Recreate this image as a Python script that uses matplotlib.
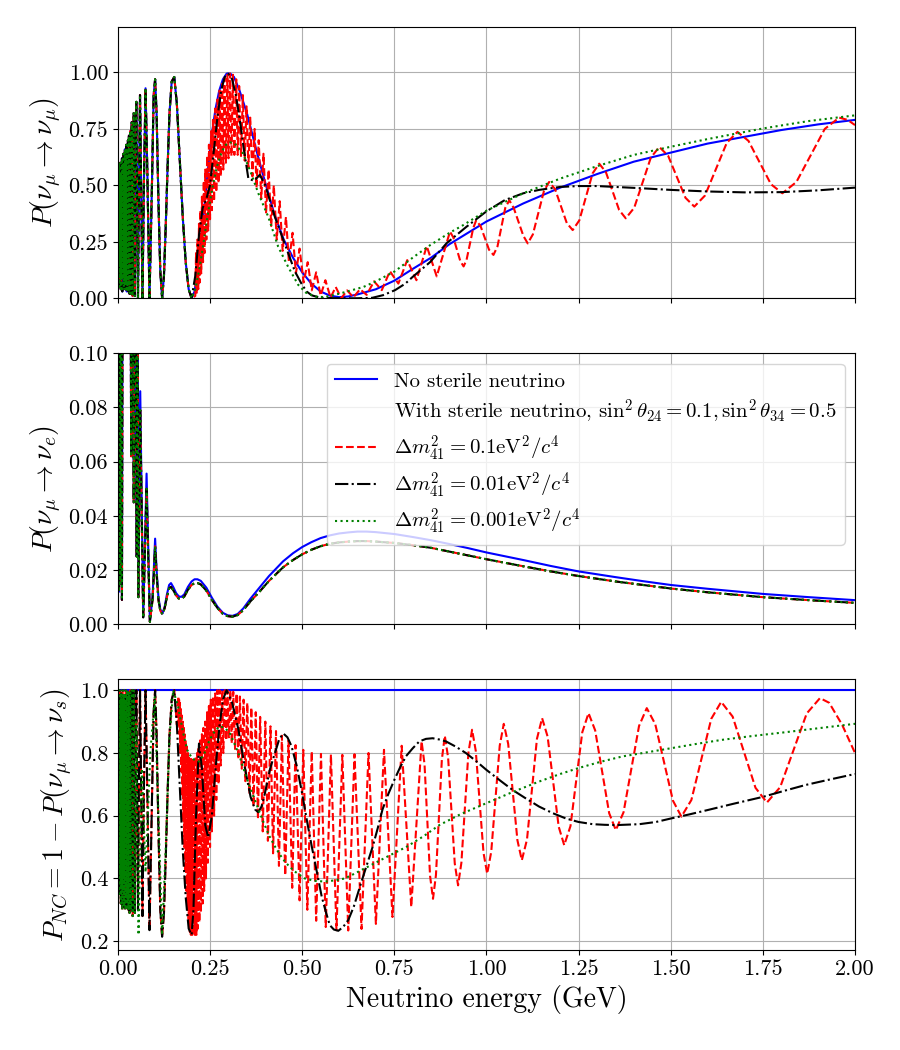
import numpy as np
import matplotlib
matplotlib.use("Agg")
import matplotlib.pyplot as plt

plt.rcParams["font.family"] = "serif"
plt.rcParams["font.serif"] = ["cmr10"]
plt.rcParams["mathtext.fontset"] = "cm"
plt.rcParams["axes.formatter.use_mathtext"] = True

# --- data: (energy GeV, probability) --- #

# top panel, dense low energy part shared by all curves
top_low = [(0.001, 0.55), (0.002, 0.1), (0.003, 0.6), (0.004, 0.05), (0.005, 0.52), (0.006, 0.15),
           (0.007, 0.6), (0.008, 0.04), (0.009, 0.55), (0.010, 0.1), (0.011, 0.62), (0.012, 0.03),
           (0.013, 0.58), (0.014, 0.12), (0.015, 0.64), (0.016, 0.05), (0.017, 0.6), (0.018, 0.08),
           (0.019, 0.66), (0.020, 0.04), (0.021, 0.62), (0.022, 0.06), (0.023, 0.68), (0.024, 0.03),
           (0.025, 0.66), (0.026, 0.05), (0.0273, 0.7), (0.0286, 0.03), (0.030, 0.72), (0.0316, 0.02),
           (0.0333, 0.74), (0.0353, 0.02), (0.0375, 0.78), (0.040, 0.01), (0.0429, 0.82), (0.046, 0.01),
           (0.048, 0.45), (0.050, 0.87), (0.052, 0.45), (0.0545, 0.0), (0.057, 0.45), (0.060, 0.9),
           (0.063, 0.5), (0.0667, 0.0), (0.0705, 0.5), (0.075, 0.93), (0.080, 0.55), (0.0857, 0.0)]
top_mid = [(0.092, 0.47), (0.097, 0.9), (0.101, 0.97), (0.105, 0.82), (0.110, 0.43), (0.115, 0.12),
           (0.120, 0.0), (0.125, 0.1), (0.130, 0.33), (0.135, 0.59), (0.140, 0.82), (0.146, 0.96),
           (0.153, 0.98), (0.160, 0.86), (0.168, 0.61), (0.176, 0.36), (0.184, 0.16), (0.192, 0.04),
           (0.200, 0.0)]
top_blue = [(0.208, 0.03), (0.216, 0.12), (0.225, 0.25), (0.235, 0.41), (0.245, 0.58), (0.255, 0.73),
            (0.265, 0.84), (0.275, 0.92), (0.285, 0.97), (0.295, 0.995), (0.305, 0.995), (0.315, 0.98),
            (0.33, 0.92), (0.35, 0.82), (0.375, 0.66), (0.40, 0.51), (0.425, 0.37), (0.45, 0.26),
            (0.475, 0.18), (0.50, 0.115), (0.525, 0.065), (0.55, 0.03), (0.575, 0.012), (0.60, 0.005),
            (0.625, 0.008), (0.65, 0.017), (0.70, 0.04), (0.75, 0.078), (0.80, 0.13), (0.85, 0.18),
            (0.90, 0.24), (0.95, 0.29), (1.00, 0.34), (1.10, 0.42), (1.20, 0.49), (1.30, 0.55),
            (1.40, 0.605), (1.50, 0.645), (1.60, 0.685), (1.70, 0.715), (1.80, 0.745), (1.90, 0.77),
            (2.00, 0.79)]
top_red = [(0.210, 0.01), (0.212, 0.2), (0.214, 0.02), (0.216, 0.26), (0.218, 0.04), (0.220, 0.33),
           (0.222, 0.07), (0.224, 0.39), (0.226, 0.11), (0.228, 0.45), (0.231, 0.16), (0.233, 0.52),
           (0.235, 0.2), (0.237, 0.57), (0.240, 0.26), (0.242, 0.63), (0.245, 0.3), (0.247, 0.68),
           (0.250, 0.35), (0.253, 0.74), (0.255, 0.39), (0.258, 0.79), (0.261, 0.43), (0.264, 0.84),
           (0.267, 0.47), (0.270, 0.88), (0.273, 0.51), (0.276, 0.92), (0.279, 0.54), (0.283, 0.95),
           (0.286, 0.57), (0.289, 0.975), (0.293, 0.6), (0.297, 0.99), (0.300, 0.62), (0.304, 0.995),
           (0.308, 0.63), (0.312, 0.99), (0.316, 0.635), (0.321, 0.97), (0.325, 0.635), (0.329, 0.94),
           (0.334, 0.63), (0.339, 0.9), (0.344, 0.61), (0.349, 0.85), (0.354, 0.58), (0.359, 0.8),
           (0.365, 0.54), (0.371, 0.75), (0.376, 0.49), (0.382, 0.7), (0.389, 0.44), (0.395, 0.64),
           (0.402, 0.38), (0.409, 0.57), (0.416, 0.32), (0.423, 0.5), (0.431, 0.26), (0.439, 0.43),
           (0.447, 0.21), (0.456, 0.36), (0.464, 0.16), (0.474, 0.29), (0.483, 0.11), (0.493, 0.22),
           (0.504, 0.07), (0.515, 0.16), (0.526, 0.035), (0.538, 0.115), (0.550, 0.012), (0.563, 0.08),
           (0.577, 0.003), (0.591, 0.05), (0.606, 0.0), (0.622, 0.035), (0.639, 0.004), (0.657, 0.04),
           (0.675, 0.015), (0.695, 0.075), (0.716, 0.036), (0.738, 0.12), (0.761, 0.065), (0.785, 0.169),
           (0.81, 0.08), (0.838, 0.231), (0.865, 0.097), (0.901, 0.295), (0.91, 0.27), (0.929, 0.165),
           (0.938, 0.141), (0.946, 0.17), (0.964, 0.31), (0.972, 0.345), (0.984, 0.32), (1.007, 0.215),
           (1.019, 0.192), (1.03, 0.23), (1.051, 0.40), (1.062, 0.434), (1.074, 0.40), (1.1, 0.277),
           (1.112, 0.243), (1.126, 0.283), (1.156, 0.475), (1.17, 0.515), (1.186, 0.484), (1.218, 0.333),
           (1.234, 0.302), (1.252, 0.345), (1.288, 0.553), (1.306, 0.596), (1.324, 0.559), (1.36, 0.391),
           (1.378, 0.354), (1.401, 0.401), (1.446, 0.623), (1.469, 0.670), (1.493, 0.631), (1.54, 0.445),
           (1.564, 0.406), (1.593, 0.455), (1.652, 0.688), (1.681, 0.737), (1.711, 0.697), (1.772, 0.505),
           (1.803, 0.465), (1.841, 0.515), (1.918, 0.75), (1.957, 0.80), (1.98, 0.79), (2.0, 0.767)]
top_black = [(0.21, 0.1), (0.22, 0.28), (0.23, 0.4), (0.24, 0.44), (0.25, 0.5), (0.26, 0.65),
             (0.27, 0.8), (0.28, 0.92), (0.29, 0.98), (0.299, 0.995), (0.31, 0.97), (0.32, 0.9),
             (0.33, 0.8), (0.34, 0.68), (0.354, 0.53), (0.37, 0.52), (0.385, 0.547), (0.40, 0.5),
             (0.413, 0.43), (0.426, 0.36), (0.444, 0.28), (0.462, 0.2), (0.48, 0.12), (0.498, 0.065),
             (0.512, 0.03), (0.526, 0.013), (0.55, 0.002), (0.6, 0.0), (0.65, 0.0), (0.69, 0.002),
             (0.72, 0.014), (0.752, 0.036), (0.78, 0.065), (0.8, 0.095), (0.847, 0.16), (0.892, 0.244),
             (0.946, 0.317), (1.0, 0.385), (1.05, 0.435), (1.1, 0.465), (1.143, 0.48), (1.2, 0.493),
             (1.25, 0.497), (1.3, 0.497), (1.4, 0.489), (1.5, 0.48), (1.6, 0.473), (1.7, 0.469),
             (1.8, 0.47), (1.9, 0.478), (2.0, 0.49)]
top_green = [(0.21, 0.04), (0.22, 0.12), (0.23, 0.22), (0.24, 0.33), (0.25, 0.43), (0.26, 0.52),
             (0.27, 0.59), (0.28, 0.64), (0.29, 0.675), (0.3, 0.69), (0.31, 0.69), (0.32, 0.68),
             (0.34, 0.64), (0.36, 0.56), (0.381, 0.465), (0.408, 0.361), (0.435, 0.228), (0.462, 0.139),
             (0.489, 0.06), (0.51, 0.025), (0.535, 0.008), (0.56, 0.005), (0.6, 0.02), (0.666, 0.05),
             (0.7, 0.075), (0.752, 0.12), (0.8, 0.18), (0.847, 0.235), (0.9, 0.29), (0.937, 0.324),
             (1.0, 0.388), (1.1, 0.465), (1.2, 0.53), (1.3, 0.585), (1.4, 0.635), (1.5, 0.671),
             (1.6, 0.705), (1.75, 0.752), (1.875, 0.785), (2.0, 0.81)]

# middle panel
mid_low = [(0.001, 0.06), (0.003, 0.012), (0.005, 0.16), (0.007, 0.015), (0.009, 0.16), (0.011, 0.009),
           (0.013, 0.16), (0.02, 0.25), (0.03, 0.25), (0.034, 0.16), (0.036, 0.062), (0.039, 0.16),
           (0.043, 0.045), (0.047, 0.16), (0.051, 0.025), (0.053, 0.14), (0.0555, 0.01)]
mid_blue = [(0.0606, 0.086), (0.0687, 0.0027), (0.0778, 0.0556), (0.0868, 0.001), (0.094, 0.01),
            (0.098, 0.022), (0.101, 0.0316), (0.105, 0.02), (0.11, 0.01), (0.115, 0.0055), (0.121, 0.004),
            (0.127, 0.0065), (0.133, 0.011), (0.139, 0.0145), (0.144, 0.0152), (0.15, 0.0138),
            (0.158, 0.0115), (0.165, 0.0103), (0.172, 0.0101), (0.18, 0.011), (0.19, 0.0138),
            (0.2, 0.0158), (0.208, 0.0166), (0.216, 0.0166), (0.225, 0.016), (0.24, 0.0135),
            (0.255, 0.0098), (0.27, 0.0065), (0.285, 0.0042), (0.298, 0.0033), (0.311, 0.0031),
            (0.325, 0.0038), (0.34, 0.0058), (0.36, 0.0095), (0.384, 0.0135), (0.41, 0.0178),
            (0.448, 0.0232), (0.475, 0.0262), (0.5, 0.0285), (0.525, 0.0303), (0.55, 0.0318),
            (0.575, 0.0328), (0.6, 0.0335), (0.625, 0.0339), (0.65, 0.0342), (0.675, 0.0342),
            (0.7, 0.034), (0.75, 0.0333), (0.8, 0.0322), (0.85, 0.031), (0.9, 0.0296), (0.95, 0.0281),
            (1.0, 0.0265), (1.1, 0.0237), (1.175, 0.0215), (1.25, 0.0195), (1.35, 0.0174),
            (1.425, 0.0159), (1.5, 0.0145), (1.6, 0.0131), (1.75, 0.0112), (1.875, 0.0100), (2.0, 0.0089)]
mid_sterile = [(0.0606, 0.079), (0.0687, 0.0025), (0.0778, 0.050), (0.0868, 0.0009), (0.094, 0.009),
               (0.098, 0.02), (0.101, 0.0288), (0.105, 0.0185), (0.11, 0.009), (0.115, 0.005),
               (0.121, 0.0037), (0.127, 0.006), (0.133, 0.01), (0.139, 0.0133), (0.144, 0.0138),
               (0.15, 0.0126), (0.158, 0.0106), (0.165, 0.0095), (0.172, 0.0094), (0.18, 0.0102),
               (0.19, 0.0127), (0.2, 0.0145), (0.208, 0.0152), (0.216, 0.0152), (0.225, 0.0147),
               (0.24, 0.0124), (0.255, 0.009), (0.27, 0.006), (0.285, 0.0038), (0.298, 0.003),
               (0.311, 0.0028), (0.325, 0.0034), (0.34, 0.0052), (0.36, 0.0085), (0.384, 0.012),
               (0.41, 0.016), (0.448, 0.021), (0.475, 0.0237), (0.5, 0.0258), (0.525, 0.0275),
               (0.55, 0.0288), (0.575, 0.0297), (0.6, 0.0302), (0.625, 0.0305), (0.65, 0.0307),
               (0.675, 0.0307), (0.7, 0.0305), (0.75, 0.03), (0.8, 0.0292), (0.85, 0.0282), (0.9, 0.0268),
               (0.95, 0.0254), (1.0, 0.024), (1.1, 0.0214), (1.175, 0.0195), (1.25, 0.0178),
               (1.35, 0.0158), (1.425, 0.0145), (1.5, 0.0132), (1.6, 0.0118), (1.75, 0.0100),
               (1.875, 0.0089), (2.0, 0.0079)]

# bottom panel
bot_blue = [(0.0, 1.0), (2.0, 1.0)]
bot_low = [(0.001, 0.98), (0.002, 0.4), (0.003, 0.95), (0.004, 0.35), (0.005, 1.0), (0.006, 0.42),
           (0.007, 0.97), (0.008, 0.32), (0.009, 0.99), (0.010, 0.38), (0.011, 0.96), (0.012, 0.3),
           (0.013, 1.0), (0.014, 0.36), (0.015, 0.98), (0.016, 0.31), (0.017, 0.99), (0.018, 0.4),
           (0.019, 0.97), (0.020, 0.3), (0.021, 1.0), (0.022, 0.34), (0.023, 0.98), (0.024, 0.3),
           (0.025, 1.0), (0.026, 0.33), (0.0273, 1.0), (0.0286, 0.3), (0.030, 0.99), (0.0316, 0.29),
           (0.0333, 1.0), (0.0353, 0.3), (0.0375, 1.0), (0.040, 0.28), (0.0429, 1.0), (0.046, 0.29)]
bot_mid = [(0.048, 0.7), (0.050, 1.0), (0.052, 0.7), (0.0545, 0.3), (0.057, 0.7), (0.060, 1.0),
           (0.063, 0.7), (0.0667, 0.28), (0.0705, 0.68), (0.075, 1.0), (0.080, 0.66), (0.0857, 0.235),
           (0.092, 0.62), (0.097, 0.93), (0.101, 1.0), (0.105, 0.86), (0.110, 0.55), (0.115, 0.3),
           (0.120, 0.214), (0.125, 0.29), (0.130, 0.47), (0.135, 0.68), (0.140, 0.86), (0.146, 0.97),
           (0.153, 1.0), (0.160, 0.89)]
bot_red = [(0.162, 0.93), (0.164, 0.98), (0.165, 0.9), (0.166, 0.97), (0.167, 0.86), (0.168, 0.96),
           (0.169, 0.8), (0.171, 0.94), (0.172, 0.74), (0.173, 0.92), (0.175, 0.66), (0.176, 0.9),
           (0.177, 0.58), (0.179, 0.88), (0.180, 0.5), (0.181, 0.86), (0.183, 0.42), (0.184, 0.84),
           (0.186, 0.36), (0.187, 0.82), (0.189, 0.3), (0.190, 0.8), (0.192, 0.26), (0.193, 0.79),
           (0.195, 0.23), (0.197, 0.78), (0.198, 0.22), (0.200, 0.78), (0.202, 0.22), (0.204, 0.78),
           (0.205, 0.22), (0.207, 0.78), (0.209, 0.22), (0.211, 0.79), (0.213, 0.22), (0.215, 0.8),
           (0.217, 0.24), (0.219, 0.82), (0.221, 0.26), (0.223, 0.84), (0.225, 0.29), (0.228, 0.86),
           (0.230, 0.32), (0.232, 0.88), (0.234, 0.36), (0.237, 0.9), (0.239, 0.4), (0.242, 0.93),
           (0.244, 0.45), (0.247, 0.95), (0.250, 0.5), (0.252, 0.97), (0.255, 0.55), (0.258, 0.98),
           (0.261, 0.6), (0.264, 0.99), (0.267, 0.65), (0.270, 1.0), (0.273, 0.7), (0.276, 1.0),
           (0.279, 0.76), (0.283, 1.0), (0.286, 0.8), (0.290, 1.0), (0.294, 0.84), (0.297, 1.0),
           (0.301, 0.85), (0.305, 1.0), (0.309, 0.83), (0.313, 0.995), (0.318, 0.81), (0.322, 0.99),
           (0.327, 0.78), (0.331, 0.98), (0.336, 0.75), (0.341, 0.97), (0.346, 0.71), (0.351, 0.96),
           (0.357, 0.67), (0.362, 0.945), (0.368, 0.63), (0.374, 0.93), (0.380, 0.59), (0.386, 0.915),
           (0.393, 0.55), (0.400, 0.9), (0.407, 0.52), (0.414, 0.885), (0.421, 0.48), (0.429, 0.87),
           (0.437, 0.44), (0.445, 0.855), (0.454, 0.41), (0.463, 0.84), (0.473, 0.37), (0.482, 0.825),
           (0.493, 0.33), (0.503, 0.81), (0.514, 0.3), (0.526, 0.805), (0.538, 0.265), (0.551, 0.797),
           (0.564, 0.245), (0.578, 0.795), (0.593, 0.235), (0.609, 0.794), (0.625, 0.234), (0.642, 0.796),
           (0.661, 0.239), (0.680, 0.80), (0.700, 0.255), (0.722, 0.81), (0.745, 0.277), (0.770, 0.823),
           (0.796, 0.309), (0.824, 0.837), (0.832, 0.764), (0.847, 0.408), (0.855, 0.335), (0.863, 0.411),
           (0.879, 0.779), (0.887, 0.855), (0.896, 0.785), (0.914, 0.448), (0.923, 0.378), (0.932, 0.45),
           (0.951, 0.80), (0.961, 0.874), (0.971, 0.807), (0.992, 0.482), (1.002, 0.415), (1.013, 0.485),
           (1.036, 0.823), (1.047, 0.893), (1.059, 0.829), (1.084, 0.522), (1.096, 0.458), (1.11, 0.524),
           (1.137, 0.845), (1.151, 0.911), (1.166, 0.852), (1.196, 0.565), (1.211, 0.506), (1.228, 0.567),
           (1.26, 0.866), (1.277, 0.927), (1.295, 0.872), (1.333, 0.608), (1.351, 0.554), (1.372, 0.611),
           (1.414, 0.886), (1.435, 0.943), (1.458, 0.892), (1.506, 0.648), (1.529, 0.597), (1.556, 0.65),
           (1.61, 0.909), (1.637, 0.963), (1.668, 0.916), (1.73, 0.689), (1.761, 0.642), (1.797, 0.691),
           (1.869, 0.926), (1.905, 0.975), (1.93, 0.96), (1.965, 0.89), (2.0, 0.80)]
bot_black = [(0.168, 0.69), (0.176, 0.49), (0.184, 0.34), (0.192, 0.24), (0.200, 0.22), (0.205, 0.3),
             (0.212, 0.6), (0.22, 0.83), (0.228, 0.75), (0.237, 0.57), (0.245, 0.53), (0.255, 0.6),
             (0.265, 0.75), (0.275, 0.88), (0.285, 0.97), (0.295, 1.0), (0.31, 0.96), (0.327, 0.875),
             (0.345, 0.75), (0.36, 0.66), (0.372, 0.62), (0.381, 0.611), (0.39, 0.63), (0.399, 0.672),
             (0.413, 0.75), (0.426, 0.80), (0.438, 0.845), (0.449, 0.862), (0.46, 0.85), (0.471, 0.822),
             (0.485, 0.76), (0.498, 0.683), (0.512, 0.59), (0.526, 0.502), (0.54, 0.42), (0.553, 0.342),
             (0.565, 0.29), (0.575, 0.251), (0.586, 0.237), (0.598, 0.233), (0.611, 0.245), (0.625, 0.267),
             (0.64, 0.31), (0.661, 0.39), (0.676, 0.445), (0.691, 0.50), (0.705, 0.56), (0.718, 0.62),
             (0.734, 0.67), (0.75, 0.714), (0.766, 0.755), (0.782, 0.79), (0.8, 0.815), (0.818, 0.837),
             (0.836, 0.845), (0.854, 0.847), (0.872, 0.843), (0.89, 0.837), (0.917, 0.82), (0.944, 0.80),
             (0.972, 0.774), (1.0, 0.746), (1.035, 0.714), (1.071, 0.682), (1.107, 0.655), (1.143, 0.629),
             (1.18, 0.608), (1.216, 0.591), (1.25, 0.58), (1.288, 0.573), (1.32, 0.571), (1.351, 0.57),
             (1.415, 0.573), (1.46, 0.58), (1.5, 0.591), (1.55, 0.604), (1.6, 0.618), (1.67, 0.638),
             (1.75, 0.66), (1.81, 0.68), (1.866, 0.698), (1.93, 0.715), (2.0, 0.733)]
bot_green = [(0.05, 0.9), (0.056, 0.22), (0.065, 0.75), (0.075, 0.42), (0.088, 0.8), (0.1, 0.98),
             (0.11, 0.6), (0.12, 0.22), (0.13, 0.5), (0.14, 0.85), (0.15, 1.0), (0.163, 0.95),
             (0.176, 0.87), (0.188, 0.81), (0.2, 0.785), (0.211, 0.775), (0.222, 0.773), (0.235, 0.8),
             (0.249, 0.842), (0.263, 0.87), (0.276, 0.885), (0.29, 0.88), (0.303, 0.865), (0.318, 0.825),
             (0.33, 0.79), (0.345, 0.735), (0.36, 0.685), (0.375, 0.64), (0.393, 0.585), (0.411, 0.535),
             (0.426, 0.502), (0.44, 0.475), (0.453, 0.454), (0.466, 0.437), (0.48, 0.422), (0.507, 0.40),
             (0.535, 0.392), (0.562, 0.39), (0.59, 0.394), (0.616, 0.40), (0.64, 0.414), (0.661, 0.427),
             (0.691, 0.445), (0.74, 0.475), (0.782, 0.50), (0.83, 0.535), (0.872, 0.57), (0.93, 0.605),
             (1.0, 0.64), (1.07, 0.675), (1.143, 0.709), (1.2, 0.733), (1.25, 0.752), (1.31, 0.772),
             (1.369, 0.789), (1.435, 0.802), (1.5, 0.815), (1.57, 0.829), (1.64, 0.842), (1.7, 0.851),
             (1.75, 0.858), (1.81, 0.866), (1.866, 0.874), (1.93, 0.883), (2.0, 0.893)]

labels = ["No sterile neutrino",
          r"With sterile neutrino, $\sin^2\theta_{24} = 0.1, \sin^2\theta_{34} = 0.5$",
          r"$\Delta m^2_{41} = 0.1\mathrm{eV}^2/c^4$",
          r"$\Delta m^2_{41} = 0.01\mathrm{eV}^2/c^4$",
          r"$\Delta m^2_{41} = 0.001\mathrm{eV}^2/c^4$"]


def xy(*parts):
    pts = np.array([p for part in parts for p in part])
    return pts[:, 0], pts[:, 1]


fig, (ax1, ax2, ax3) = plt.subplots(3, 1, sharex=True, figsize=(9, 10.5), dpi=100)
fig.subplots_adjust(left=0.131, right=0.95, top=0.974, bottom=0.095, hspace=0.203)

# --- P(numu -> numu) --- #
ax1.plot(*xy(top_low, top_mid, top_blue), "b-", lw=1.5)
ax1.plot(*xy(top_low, top_mid, top_red), "r--", lw=1.5)
ax1.plot(*xy(top_low, top_mid, top_black), "k-.", lw=1.5)
ax1.plot(*xy(top_low, top_mid, top_green), "g:", lw=1.5)
ax1.set_ylim(0, 1.2)
ax1.set_yticks([0, 0.25, 0.5, 0.75, 1.0])
ax1.set_yticklabels(["0.00", "0.25", "0.50", "0.75", "1.00"])
ax1.set_ylabel(r"$P(\nu_\mu \rightarrow \nu_\mu)$", fontsize=20)

# --- P(numu -> nue) --- #
ax2.plot(*xy(mid_low, mid_blue), "b-", lw=1.5, label=labels[0])
ax2.plot([], [], " ", label=labels[1])
ax2.plot(*xy(mid_low, mid_sterile), "r--", lw=1.5, label=labels[2])
ax2.plot(*xy(mid_low, mid_sterile), "k-.", lw=1.5, label=labels[3])
ax2.plot(*xy(mid_low, mid_sterile), "g:", lw=1.5, label=labels[4])
ax2.set_ylim(0, 0.1)
ax2.set_yticks([0, 0.02, 0.04, 0.06, 0.08, 0.1])
ax2.set_yticklabels(["0.00", "0.02", "0.04", "0.06", "0.08", "0.10"])
ax2.set_ylabel(r"$P(\nu_\mu \rightarrow \nu_e)$", fontsize=20)
ax2.legend(loc="upper right", fontsize=15, labelspacing=0.35)

# --- P_NC --- #
ax3.plot(*xy(bot_blue), "b-", lw=1.5)
ax3.plot(*xy(bot_low, bot_mid, bot_red), "r--", lw=1.5)
ax3.plot(*xy(bot_low, bot_mid, bot_black), "k-.", lw=1.5)
ax3.plot(*xy(bot_low, bot_green), "g:", lw=1.5)
ax3.set_ylim(0.171, 1.035)
ax3.set_yticks([0.2, 0.4, 0.6, 0.8, 1.0])
ax3.set_yticklabels(["0.2", "0.4", "0.6", "0.8", "1.0"])
ax3.set_ylabel(r"$P_{NC} = 1 - P(\nu_\mu \rightarrow \nu_s)$", fontsize=20)
ax3.set_xlabel("Neutrino energy (GeV)", fontsize=20)

ax3.set_xlim(0, 2)
ax3.set_xticks([0, 0.25, 0.5, 0.75, 1.0, 1.25, 1.5, 1.75, 2.0])
ax3.set_xticklabels(["0.00", "0.25", "0.50", "0.75", "1.00", "1.25", "1.50", "1.75", "2.00"])

for ax in (ax1, ax2, ax3):
    ax.grid(True)
    ax.tick_params(labelsize=16)

fig.savefig("out.png", dpi=100)
